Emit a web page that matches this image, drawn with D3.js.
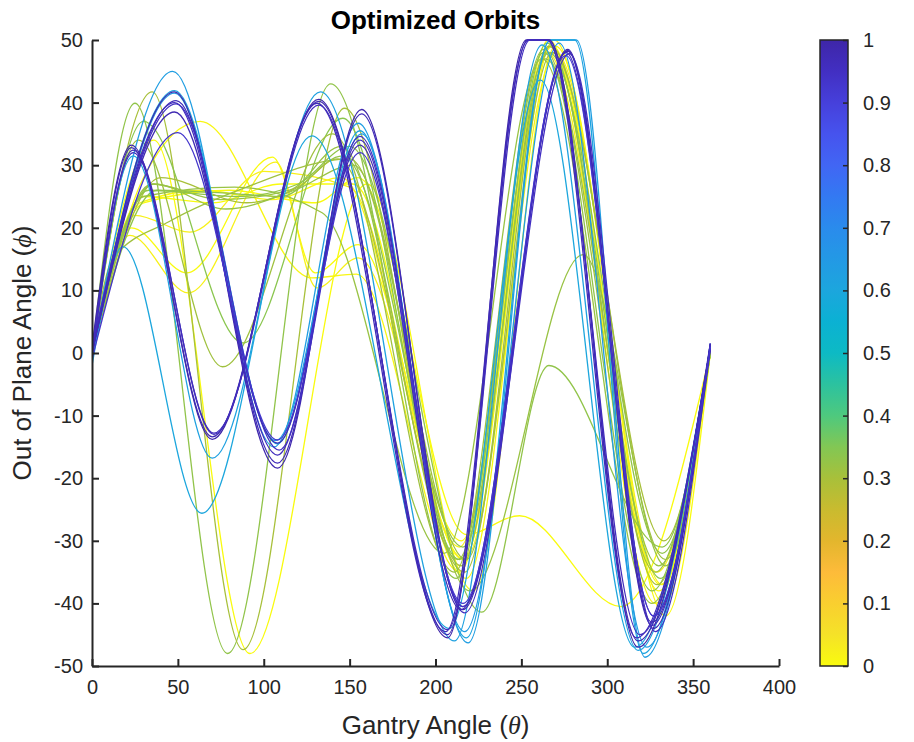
<!DOCTYPE html>
<html>
<head>
<meta charset="utf-8">
<title>Optimized Orbits</title>
<script src="https://cdn.jsdelivr.net/npm/d3@7"></script>
<style>
  body { margin: 0; background: #ffffff; }
  svg { display: block; font-family: "Liberation Sans", Arial, Helvetica, sans-serif; }
</style>
</head>
<body>
<svg id="chart" width="914" height="742"></svg>
<script>
// Axis ticks
const xTicks = [0, 50, 100, 150, 200, 250, 300, 350, 400];
const yTicks = [-50, -40, -30, -20, -10, 0, 10, 20, 30, 40, 50];
const colorTicks = [0, 0.1, 0.2, 0.3, 0.4, 0.5, 0.6, 0.7, 0.8, 0.9, 1];

// Colour map (flipped parula): value -> colour
const cmapValues = [0, 0.05, 0.1, 0.15, 0.2, 0.25, 0.3, 0.35, 0.4, 0.45, 0.5,
                    0.55, 0.6, 0.65, 0.7, 0.75, 0.8, 0.85, 0.9, 0.95, 1];
const cmapColors = ["#f9fb0e", "#f5e228", "#f9cf2f", "#fdbb3a", "#e3b62d", "#c9bb2f",
                    "#a8c03a", "#82c754", "#4ec97e", "#2cc29f", "#0dbac4", "#0bb1d3",
                    "#1ca6dd", "#2399e5", "#2a8bec", "#3379f2", "#4166f4", "#4653ee",
                    "#4640db", "#422fc2", "#3e26a8"];

// Orbits: knots [gantry angle θ, out-of-plane angle φ], one colour value per orbit
const yellowValues = [0, 0.02, 0.01, 0, 0, 0.01, 0.02, 0];
const yellowOrbits = [
  [[0,0],[23,20],[55,12.8],[105,31.3],[130,12.8],[155,17.3],[215,-30],[268,49],[330,-38],[360,0]],
  [[0,0],[22,18.8],[56,9.6],[107,30.5],[131,10.4],[155,15.2],[217,-33],[270,48],[332,-37],[360,0]],
  [[0,0],[30,28],[63,37],[128,12],[154,12.6],[214,-35],[266,50],[328,-40],[360,1]],
  [[0,0],[36,34],[92,-48],[160,27],[222,-38],[270,49],[334,-42],[360,0]],
  [[0,0],[30,25],[70,24],[110,27],[152,27],[216,-33],[267,49],[331,-37],[360,0]],
  [[0,0],[28,24],[65,26],[105,24.5],[145,28],[218,-36],[269,50],[333,-40],[360,1]],
  [[0,0],[25,22],[57,19.3],[100,29],[150,26.5],[214,-31],[265,48],[329,-35],[360,0]],
  [[0,0],[30,24],[80,26],[130,24],[155,28],[218,-29],[249,-26],[308,-40.5],[360,0]]
];

const greenValues = [0.33, 0.3, 0.34, 0.31, 0.32, 0.33, 0.3, 0.32, 0.31, 0.33, 0.32];
const greenOrbits = [
  [[0,0],[25,39.9],[79,-48],[139,43],[212,-36],[263,48],[326,-38],[360,0]],
  [[0,1],[35,41.7],[88,-47.4],[147,39.1],[215,-34],[266,49],[329,-37],[360,0.5]],
  [[0,0],[30,37],[88,1.6],[146,37.5],[214,-33],[265,49.5],[331,-36],[360,0]],
  [[0,0],[27,34],[76,-2.2],[140,35],[211,-35],[263,48.5],[328,-35],[360,1]],
  [[0,0],[35,27],[75,24.5],[115,26],[145,33],[213,-33],[264,47],[330,-34],[360,0]],
  [[0,0],[38,26],[80,25.5],[110,25],[146,31.5],[216,-31],[266,48],[332,-32],[360,0]],
  [[0,0],[40,28],[90,24],[120,26.5],[143,31],[217,-35],[267,49],[333,-30],[360,0]],
  [[0,0],[30,25],[83,26.5],[134,22.4],[205,-32],[262,47],[326,-40],[360,1]],
  [[0,0],[12,15],[45,21],[90,26.5],[150,31],[218,-33],[268,48],[334,-33],[360,0]],
  [[0,0],[33,26],[85,25],[120,27],[150,33],[227,-41.4],[266,-2],[332,-31],[360,0]],
  [[0,0],[36,27],[78,23],[118,26],[152,30],[220,-38],[286,15.7],[334,-34],[360,0]]
];

const cyanValues = [0.63, 0.61, 0.64, 0.62, 0.6];
const cyanOrbits = [
  [[0,0],[47,45],[106,-15],[155,36.7],[219,-46.3],[267,50],[282,50],[322,-48.6],[360,1]],
  [[0,0],[48,41.9],[108,-14.5],[156,35.5],[218,-45.5],[267,50],[281,50],[321,-48],[360,1]],
  [[0,-1],[48,41.5],[107,-14],[157,35],[217,-44.5],[272,49.5],[323,-47],[360,1.5]],
  [[0,0],[24,31.5],[70,-16.8],[133,41.7],[211,-46],[262,49.2],[318,-47.5],[360,1]],
  [[0,-2],[18,17],[64,-25.6],[128,34.7],[208,-44],[261,43.6],[316,-47],[360,1]]
];

const indigoValues = [1, 0.98, 0.97, 0.96, 0.99, 0.97, 0.96, 0.95, 0.98, 0.93];
const indigoOrbits = [
  [[0,1],[23,33.2],[70,-13.8],[132,40.5],[207,-45.5],[253,50],[266,50],[318,-47],[360,1.5]],
  [[0,0],[23,32.8],[70,-13.4],[132,40.2],[207,-45],[254,50],[266,50],[318,-46],[360,1]],
  [[0,-1],[24,32.4],[71,-13],[131,39.9],[206,-44.5],[254,50],[265,50],[317,-45.5],[360,0.5]],
  [[0,0],[24,32],[71,-12.8],[132,39.6],[207,-44.2],[255,50],[265,50],[319,-45],[360,1]],
  [[0,0],[48,41.7],[108,-18.4],[157,38.9],[216,-41],[277,48.5],[327,-44],[360,1.5]],
  [[0,0],[49,40.3],[108,-17.6],[157,38.2],[216,-40.5],[277,48.3],[326,-43.5],[360,1]],
  [[0,1],[48,40],[108,-16.3],[156,34.6],[217,-41.5],[276,48],[327,-42],[360,1.5]],
  [[0,0],[49,39.8],[109,-15.5],[156,34],[216,-40.5],[278,47.8],[328,-44.5],[360,1]],
  [[0,0],[48,38.5],[108,-14.4],[156,33.2],[215,-41],[277,48.2],[326,-43],[360,0.5]],
  [[0,-1],[50,35.2],[108,-13.9],[156,32],[216,-40],[276,47.5],[327,-42],[360,1]]
];

// ---- layout ----
const svg = d3.select("#chart");
const plot = { left: 92, right: 779, top: 40, bottom: 666 };
const cbar = { left: 820, right: 848, top: 40, bottom: 666 };
const ink = "#262626";

const x = d3.scaleLinear().domain([0, 400]).range([plot.left, plot.right]);
const y = d3.scaleLinear().domain([-50, 50]).range([plot.bottom, plot.top]);
const colour = d3.scaleLinear().domain(cmapValues).range(cmapColors).interpolate(d3.interpolateRgb);

svg.append("defs").append("clipPath").attr("id", "plot-clip")
  .append("rect")
  .attr("x", plot.left).attr("y", plot.top - 1)
  .attr("width", plot.right - plot.left).attr("height", plot.bottom - plot.top + 2);

const line = d3.line()
  .x(d => x(d[0]))
  .y(d => y(d[1]))
  .curve(d3.curveMonotoneX);

const groups = [
  [yellowOrbits, yellowValues],
  [greenOrbits, greenValues],
  [cyanOrbits, cyanValues],
  [indigoOrbits, indigoValues]
];

const orbitLayer = svg.append("g").attr("clip-path", "url(#plot-clip)");
groups.forEach(([orbits, values]) => {
  orbitLayer.append("g")
    .selectAll("path")
    .data(orbits)
    .join("path")
    .attr("d", line)
    .attr("fill", "none")
    .attr("stroke", (d, i) => colour(values[i]))
    .attr("stroke-width", 1.3)
    .attr("stroke-linejoin", "round");
});

// ---- axes (ticks point inward) ----
const plainNumber = d => String(d);   // hyphen-minus for negatives
const xAxis = svg.append("g")
  .attr("transform", `translate(0,${plot.bottom})`)
  .call(d3.axisBottom(x).tickValues(xTicks).tickFormat(plainNumber)
    .tickSize(-7).tickPadding(14).tickSizeOuter(0));
const yAxis = svg.append("g")
  .attr("transform", `translate(${plot.left},0)`)
  .call(d3.axisLeft(y).tickValues(yTicks).tickFormat(plainNumber)
    .tickSize(-7).tickPadding(9).tickSizeOuter(0));

[xAxis, yAxis].forEach(g => {
  g.select(".domain").attr("stroke", ink).attr("stroke-width", 2);
  g.selectAll(".tick line").attr("stroke", ink).attr("stroke-width", 2);
  g.selectAll(".tick text").attr("fill", ink).attr("font-size", 20)
    .attr("font-family", "'Liberation Sans', Arial, sans-serif");
});
xAxis.selectAll(".tick text").attr("dy", "0.71em");

// ---- titles ----
svg.append("text")
  .attr("x", (plot.left + plot.right) / 2).attr("y", 29)
  .attr("text-anchor", "middle")
  .attr("font-size", 26).attr("font-weight", "bold").attr("fill", "#000")
  .text("Optimized Orbits");

const xLabel = svg.append("text")
  .attr("x", (plot.left + plot.right) / 2).attr("y", 734)
  .attr("text-anchor", "middle").attr("font-size", 26).attr("fill", ink);
xLabel.append("tspan").text("Gantry Angle (");
xLabel.append("tspan").attr("font-style", "italic").attr("font-family", "'Liberation Serif', serif").text("θ");
xLabel.append("tspan").text(")");

const yLabel = svg.append("text")
  .attr("transform", `translate(31,${(plot.top + plot.bottom) / 2}) rotate(-90)`)
  .attr("text-anchor", "middle").attr("font-size", 26).attr("fill", ink);
yLabel.append("tspan").text("Out of Plane Angle (");
yLabel.append("tspan").attr("font-style", "italic").attr("font-family", "'Liberation Serif', serif").text("ϕ");
yLabel.append("tspan").text(")");

// ---- colour bar ----
const grad = svg.select("defs").append("linearGradient")
  .attr("id", "cbar-grad").attr("x1", 0).attr("y1", 1).attr("x2", 0).attr("y2", 0);
grad.selectAll("stop")
  .data(cmapValues)
  .join("stop")
  .attr("offset", d => d)
  .attr("stop-color", d => colour(d));

const cy = d3.scaleLinear().domain([0, 1]).range([cbar.bottom, cbar.top]);
svg.append("rect")
  .attr("x", cbar.left).attr("y", cbar.top)
  .attr("width", cbar.right - cbar.left).attr("height", cbar.bottom - cbar.top)
  .attr("fill", "url(#cbar-grad)")
  .attr("stroke", ink).attr("stroke-width", 1.5);

const cAxis = svg.append("g")
  .attr("transform", `translate(${cbar.right},0)`)
  .call(d3.axisRight(cy).tickValues(colorTicks).tickSize(-5).tickPadding(15)
    .tickFormat(d => d === 0 || d === 1 ? String(d) : d3.format(".1f")(d)).tickSizeOuter(0));
cAxis.select(".domain").remove();
cAxis.selectAll(".tick line").attr("stroke", ink).attr("stroke-width", 1.5);
cAxis.selectAll(".tick text").attr("fill", ink).attr("font-size", 20)
  .attr("font-family", "'Liberation Sans', Arial, sans-serif");
</script>
</body>
</html>
